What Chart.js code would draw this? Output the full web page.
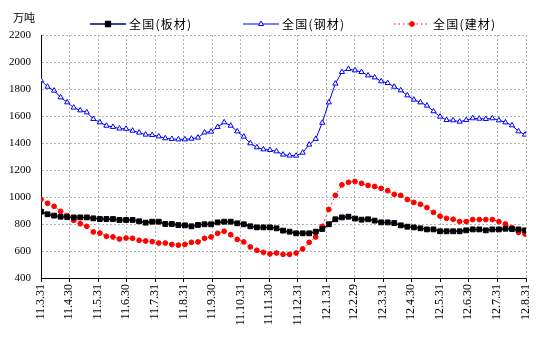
<!DOCTYPE html>
<html>
<head>
<meta charset="utf-8">
<script src="https://cdn.jsdelivr.net/npm/chart.js@4.4.3/dist/chart.umd.min.js"></script>
<style>
  html, body { margin: 0; padding: 0; background: #fff; }
  #wrap { width: 543px; height: 351px; }
</style>
</head>
<body>
<div id="wrap"><canvas id="chart" width="543" height="351"></canvas></div>
<script>
// month-end ticks, counted in days from 2011-03-31
const tickDays = [0, 30, 61, 91, 122, 153, 183, 214, 244, 275, 306, 335, 366, 396, 427, 457, 488, 519];
const tickLabels = ['11.3.31', '11.4.30', '11.5.31', '11.6.30', '11.7.31', '11.8.31', '11.9.30', '11.10.31',
  '11.11.30', '11.12.31', '12.1.31', '12.2.29', '12.3.31', '12.4.30', '12.5.31', '12.6.30', '12.7.31', '12.8.31'];

const seriesNames = ['全国(板材)', '全国(钢材)', '全国(建材)'];

// weekly readings, 万吨
const banCai = [891, 872, 862, 854, 852, 849, 849, 849, 842, 837, 837, 837, 830, 830, 830, 820, 810, 817, 817, 800,
  800, 792, 790, 783, 793, 798, 798, 812, 817, 817, 805, 798, 783, 775, 775, 775, 768, 751, 743, 731,
  731, 731, 743, 763, 798, 835, 849, 854, 840, 832, 835, 825, 812, 812, 807, 790, 780, 775, 768, 760,
  760, 746, 746, 746, 746, 753, 760, 760, 753, 760, 760, 765, 763, 760, 753];
const gangCai = [1864, 1817, 1788, 1738, 1701, 1662, 1642, 1627, 1578, 1553, 1528, 1519, 1507, 1505, 1491, 1477, 1462, 1459, 1449, 1435,
  1430, 1427, 1427, 1432, 1440, 1478, 1484, 1519, 1553, 1528, 1486, 1447, 1398, 1368, 1353, 1348, 1338, 1314, 1307, 1306,
  1328, 1388, 1430, 1550, 1701, 1840, 1926, 1948, 1938, 1926, 1901, 1886, 1857, 1844, 1817, 1790, 1753, 1721, 1701, 1677,
  1635, 1595, 1570, 1568, 1558, 1570, 1583, 1580, 1578, 1583, 1568, 1553, 1531, 1486, 1462];
const jianCai = [983, 953, 931, 894, 862, 827, 802, 783, 741, 733, 709, 704, 689, 696, 694, 679, 674, 669, 659, 659,
  648, 643, 649, 664, 667, 694, 704, 731, 746, 721, 686, 667, 630, 605, 590, 578, 585, 575, 575, 585,
  615, 664, 704, 783, 908, 1012, 1090, 1109, 1115, 1101, 1086, 1078, 1064, 1047, 1020, 1012, 982, 960, 946, 922,
  886, 858, 842, 835, 818, 818, 833, 833, 833, 833, 818, 800, 773, 738, 726];

// one reading per week
const weekDays = banCai.map((_, i) => i * 7);
const toPts = arr => arr.map((v, i) => ({ x: weekDays[i], y: v }));

const numFont = '"Liberation Serif", serif';
const cjkFont = '"Noto Sans CJK SC", sans-serif';

// excel-style legend: line sample with the marker in its middle
const legendX = [90, 243, 394];
const xlLegend = {
  id: 'xlLegend',
  afterDraw(chart) {
    const ctx = chart.ctx;
    const y = 24;
    ctx.save();
    chart.data.datasets.forEach((ds, i) => {
      const x0 = legendX[i];
      ctx.beginPath();
      ctx.setLineDash(ds.borderDash || []);
      ctx.lineWidth = ds.borderWidth;
      ctx.strokeStyle = ds.borderColor;
      ctx.moveTo(x0, y);
      ctx.lineTo(x0 + 36, y);
      ctx.stroke();
      ctx.setLineDash([]);
      ctx.fillStyle = ds.pointBackgroundColor;
      ctx.strokeStyle = ds.pointBorderColor;
      Chart.helpers.drawPoint(ctx, {
        pointStyle: ds.pointStyle, radius: ds.pointRadius, borderWidth: ds.pointBorderWidth, rotation: 0
      }, x0 + 18, y);
      ctx.fillStyle = '#000';
      ctx.font = '12px ' + cjkFont;
      ctx.letterSpacing = '1.2px';
      ctx.textBaseline = 'middle';
      ctx.fillText(ds.label, x0 + 39, y);
      ctx.letterSpacing = '0px';
    });
    ctx.font = '11px ' + cjkFont;
    ctx.fillText('万吨', 13, 18);
    ctx.restore();
  }
};

const whiteBg = {
  id: 'whiteBg',
  beforeDraw(chart) {
    const ctx = chart.ctx;
    ctx.save();
    ctx.fillStyle = '#fff';
    ctx.fillRect(0, 0, chart.width, chart.height);
    ctx.restore();
  }
};

new Chart(document.getElementById('chart'), {
  type: 'line',
  data: {
    datasets: [
      {
        label: seriesNames[0],
        data: toPts(banCai),
        borderColor: '#000080',
        borderWidth: 1.5,
        pointStyle: 'rect',
        pointRadius: 3.4,
        pointBorderWidth: 1,
        pointBackgroundColor: '#000',
        pointBorderColor: '#000',
        tension: 0
      },
      {
        label: seriesNames[1],
        data: toPts(gangCai),
        borderColor: '#0000ff',
        borderWidth: 1,
        pointStyle: 'triangle',
        pointRadius: 3,
        pointBorderWidth: 1,
        pointBackgroundColor: '#fff',
        pointBorderColor: '#0000ff',
        tension: 0
      },
      {
        label: seriesNames[2],
        data: toPts(jianCai),
        borderColor: '#ff0000',
        borderWidth: 1,
        borderDash: [1.5, 3],
        pointStyle: 'circle',
        pointRadius: 2.4,
        pointBorderWidth: 1,
        pointBackgroundColor: '#ff0000',
        pointBorderColor: '#ff0000',
        tension: 0
      }
    ]
  },
  options: {
    responsive: false,
    devicePixelRatio: 1,
    animation: false,
    layout: { padding: { left: 0, top: 35, right: 17, bottom: 0 } },
    plugins: { legend: { display: false }, tooltip: { enabled: false } },
    scales: {
      x: {
        type: 'linear',
        min: 0,
        max: 519,
        afterBuildTicks: s => { s.ticks = tickDays.map(v => ({ value: v })); },
        afterFit: s => { s.height = 73; },
        ticks: {
          autoSkip: false,
          minRotation: 90,
          maxRotation: 90,
          padding: 2,
          color: '#000',
          font: { family: numFont, size: 12 },
          callback: v => tickLabels[tickDays.indexOf(v)]
        },
        grid: { color: '#b4b4b4', tickColor: '#000', tickLength: 4, drawTicks: true },
        border: { color: '#000', width: 1, dash: [2, 2] }
      },
      y: {
        min: 400,
        max: 2200,
        afterFit: s => { s.width = 41; },
        ticks: {
          stepSize: 200,
          padding: 10,
          color: '#000',
          font: { family: numFont, size: 11 },
          callback: v => String(v)
        },
        grid: { color: '#b4b4b4', drawTicks: false },
        border: { color: '#000', width: 1, dash: [2, 2] }
      }
    }
  },
  plugins: [whiteBg, xlLegend]
});
</script>
</body>
</html>
